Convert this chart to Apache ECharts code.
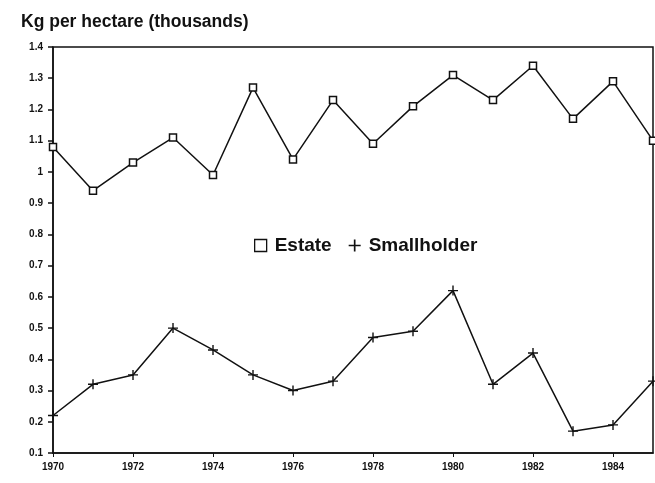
<!DOCTYPE html>
<html>
<head>
<meta charset="utf-8">
<script src="https://cdn.jsdelivr.net/npm/echarts@6/dist/echarts.min.js"></script>
<style>
  html, body { margin: 0; padding: 0; background: #fff; }
  #main { width: 655px; height: 483px; }
</style>
</head>
<body>
<div id="main"></div>
<script>
var years = ['1970', '1971', '1972', '1973', '1974', '1975', '1976', '1977',
  '1978', '1979', '1980', '1981', '1982', '1983', '1984', '1985'];
var estate = [1.08, 0.94, 1.03, 1.11, 0.99, 1.27, 1.04, 1.23,
  1.09, 1.21, 1.31, 1.23, 1.34, 1.17, 1.29, 1.10];
var smallholder = [0.22, 0.32, 0.35, 0.50, 0.43, 0.35, 0.30, 0.33,
  0.47, 0.49, 0.62, 0.32, 0.42, 0.17, 0.19, 0.33];

var plusIcon = 'path://M4.3,0H5.7V4.3H10V5.7H5.7V10H4.3V5.7H0V4.3H4.3Z';

var chart = echarts.init(document.getElementById('main'), null, { renderer: 'canvas' });

var option = {
  animation: false,
  backgroundColor: '#fff',
  title: {
    text: 'Kg per hectare (thousands)',
    left: 16,
    top: 8,
    textStyle: { fontFamily: 'Liberation Sans', fontSize: 17.5, fontWeight: 'bold', color: '#111' }
  },
  legend: {
    left: 249,
    top: 231,
    itemGap: 17,
    itemWidth: 12,
    itemHeight: 12,
    textStyle: { fontFamily: 'Liberation Sans', fontSize: 19, fontWeight: 'bold', color: '#111', padding: [0, 0, 0, 3] },
    data: [
      { name: 'Estate', icon: 'rect', itemStyle: { color: '#fff', borderColor: '#111', borderWidth: 1.3 } },
      { name: 'Smallholder', icon: plusIcon, itemStyle: { color: '#111', borderWidth: 0 } }
    ]
  },
  grid: {
    left: 53,
    right: 2,
    top: 47,
    bottom: 30,
    show: true,
    borderColor: '#111',
    borderWidth: 1.5
  },
  xAxis: {
    type: 'category',
    data: years,
    boundaryGap: false,
    axisLine: { lineStyle: { color: '#111', width: 1.5 } },
    axisTick: { show: true, length: 4, interval: 1, lineStyle: { color: '#111' } },
    axisLabel: {
      interval: 1,
      margin: 9,
      fontFamily: 'Liberation Sans',
      fontSize: 10,
      fontWeight: 'bold',
      color: '#111'
    },
    splitLine: { show: false }
  },
  yAxis: {
    type: 'value',
    min: 0.1,
    max: 1.4,
    interval: 0.1,
    axisLine: { show: true, lineStyle: { color: '#111', width: 1.5 } },
    axisTick: { show: true, length: 5, lineStyle: { color: '#111', width: 1.5 } },
    axisLabel: {
      margin: 10,
      fontFamily: 'Liberation Sans',
      fontSize: 10,
      fontWeight: 'bold',
      color: '#111',
      formatter: function (v) { return +v.toFixed(1) + ''; }
    },
    splitLine: { show: false }
  },
  series: [
    {
      name: 'Estate',
      type: 'line',
      data: estate,
      symbol: 'rect',
      symbolSize: 7,
      itemStyle: { color: '#fff', borderColor: '#111', borderWidth: 1.5 },
      lineStyle: { color: '#111', width: 1.5 }
    },
    {
      name: 'Smallholder',
      type: 'line',
      data: smallholder,
      symbol: plusIcon,
      symbolSize: 10,
      itemStyle: { color: '#111', borderWidth: 0 },
      lineStyle: { color: '#111', width: 1.5 }
    }
  ]
};

chart.setOption(option);
</script>
</body>
</html>
